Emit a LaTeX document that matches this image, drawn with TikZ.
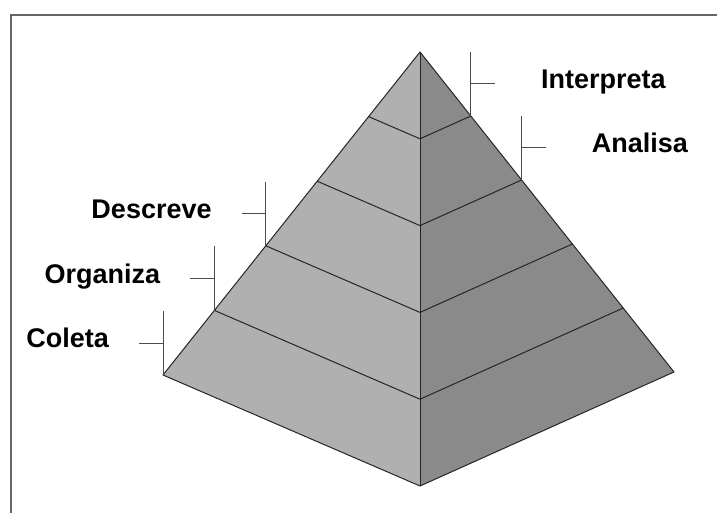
\documentclass[tikz,border=0pt]{standalone}
\usepackage{fontspec}
\setmainfont{Liberation Sans}
\usetikzlibrary{calc}

\begin{document}
\begin{tikzpicture}[x=1pt, y=-1pt,
            edge/.style = {draw=black!85, line width=1pt, line join=round},
            layer/.style = {draw=black!85, line width=1pt},
            tick/.style = {draw=black!70, line width=1pt},
            stage/.style = {font=\fontsize{27}{32}\selectfont\bfseries, inner sep=0pt}]
            \useasboundingbox (0,0) rectangle (717,513);
            % frame
            \draw[black!60, line width=1.5pt] (11,513) -- (11,15) -- (717,15);
            % pyramid
            \coordinate (apex) at (420,52);
            \coordinate (left) at (163,375);
            \coordinate (front) at (420,486);
            \coordinate (right) at (674,372);
            \fill[black!31] (apex) -- (left) -- (front) -- cycle;
            \fill[black!46] (apex) -- (front) -- (right) -- cycle;
            \foreach \t in {0.2,0.4,0.6,0.8} {
                \draw[layer] ($(apex)!\t!(left)$) -- ($(apex)!\t!(front)$) -- ($(apex)!\t!(right)$);
            }
            \draw[edge] (apex) -- (left) -- (front) -- (right) -- cycle;
            \draw[edge] (apex) -- (front);
            % labels, left side
            \foreach \t/\name/\txt in {0.6/descreve/Descreve, 0.8/organiza/Organiza, 1/coleta/Coleta} {
                \coordinate (\name-foot) at ($(apex)!\t!(left)$);
                \draw[tick] (\name-foot) -- ++(0,-64);
                \draw[tick] ($(\name-foot)+(0,-32)$) -- ++(-24,0) coordinate (\name-end);
                \node[stage, anchor=mid east] (\name) at ($(\name-end)+(-30,2)$) {\txt};
            }
            % labels, right side
            \foreach \t/\name/\txt in {0.2/interpreta/Interpreta, 0.4/analisa/Analisa} {
                \coordinate (\name-foot) at ($(apex)!\t!(right)$);
                \draw[tick] (\name-foot) -- ++(0,-64);
                \draw[tick] ($(\name-foot)+(0,-32)$) -- ++(24,0) coordinate (\name-end);
                \node[stage, anchor=mid west] (\name) at ($(\name-end)+(46,2)$) {\txt};
            }
        \end{tikzpicture}
\end{document}
